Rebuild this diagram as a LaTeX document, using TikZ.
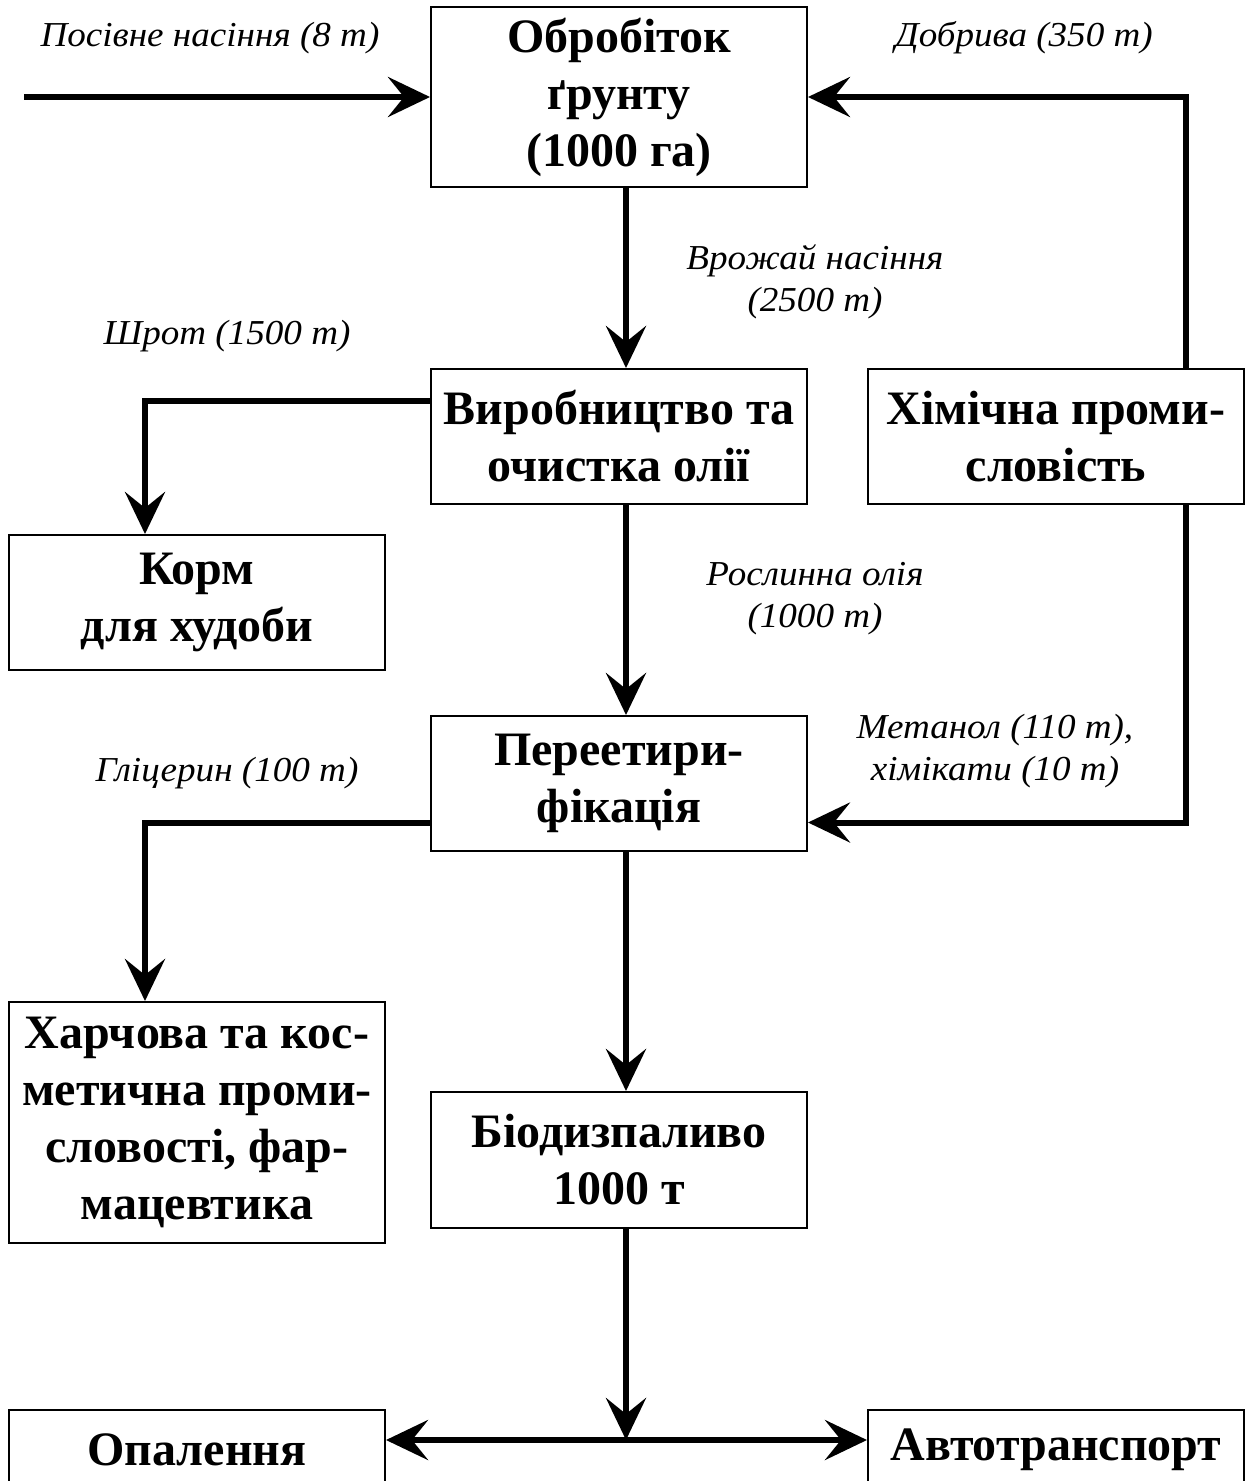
\documentclass[tikz,border=0pt]{standalone}
\usepackage{fontspec}
\setmainfont{Liberation Serif}
\newfontfamily\lblfont[FakeStretch=1.06]{Liberation Serif}
\usetikzlibrary{arrows.meta,calc}
\begin{document}
\begin{tikzpicture}[x=1pt,y=-1pt,
 box/.style={draw, line width=2pt, minimum width=376pt, inner sep=0pt, align=center, font=\bfseries\fontsize{48}{57}\selectfont},
 lbl/.style={align=center, font=\lblfont\itshape\fontsize{35}{42}\selectfont, inner sep=0pt},
 tip/.tip={Stealth[length=42pt,width=40pt,inset=16pt]},
 arr/.style={line width=6pt, -tip},
 darr/.style={line width=6pt, tip-tip}]
\clip (0,0) rectangle (1251,1481);
\node[box, minimum height=180pt] (b1) at (619,97) {Обробіток\\ґрунту\\(1000 га)};
\node[box, minimum height=135pt] (prod) at (619,436.5) {Виробництво та\\очистка олії};
\node[box, minimum height=135pt] (chem) at (1056,436.5) {Хімічна проми-\\словість};
\node[box, minimum height=135pt] (feed) at (197,602.5) {Корм\\для худоби};
\node[box, minimum height=135pt] (trans) at (619,783.5) {Переетири-\\фікація};
\node[box, minimum height=241pt] (food) at (197,1122.5) {Харчова та кос-\\метична проми-\\словості, фар-\\мацевтика};
\node[box, minimum height=136pt] (bio) at (619,1160) {Біодизпаливо\\1000 т};
\node[box, minimum height=80pt] (heat) at (197,1450) {Опалення};
\node[box, minimum height=80pt] (auto) at (1056,1450) {Автотранспорт};
\node[lbl] (l1) at (210,38) {Посівне насіння (8 т)};
\node[lbl] (l2) at (1024,38) {Добрива (350 т)};
\node[lbl] (l3) at (815,282) {Врожай насіння\\(2500 т)};
\node[lbl] (l4) at (227,336) {Шрот (1500 т)};
\node[lbl] (l5) at (815,599) {Рослинна олія\\(1000 т)};
\node[lbl] (l6) at (995,751) {Метанол (110 т),\\хімікати (10 т)};
\node[lbl] (l7) at (227,773) {Гліцерин (100 т)};
\coordinate (src) at (24,97);
\draw[arr] (src) -- (b1.west);
\draw[arr] ($(chem.north)+(130,0)$) |- (b1.east);
\draw[arr] ($(b1.south)+(7,0)$) -- ($(prod.north)+(7,0)$);
\draw[arr] ($(prod.west)+(0,-36)$) -| ($(feed.north)+(-52,0)$);
\draw[arr] ($(prod.south)+(7,0)$) -- ($(trans.north)+(7,0)$);
\draw[arr] ($(chem.south)+(130,0)$) |- ($(trans.east)+(0,39)$);
\draw[arr] ($(trans.west)+(0,39)$) -| ($(food.north)+(-52,0)$);
\draw[arr] ($(trans.south)+(7,0)$) -- ($(bio.north)+(7,0)$);
\coordinate (hl) at ($(heat.east)+(0,-10)$);
\coordinate (ar) at ($(auto.west)+(0,-10)$);
\coordinate (bs) at ($(bio.south)+(7,0)$);
\coordinate (j) at (bs |- hl);
\draw[arr] (bs) -- (j);
\draw[darr] (hl) -- (ar);
\end{tikzpicture}
\end{document}
